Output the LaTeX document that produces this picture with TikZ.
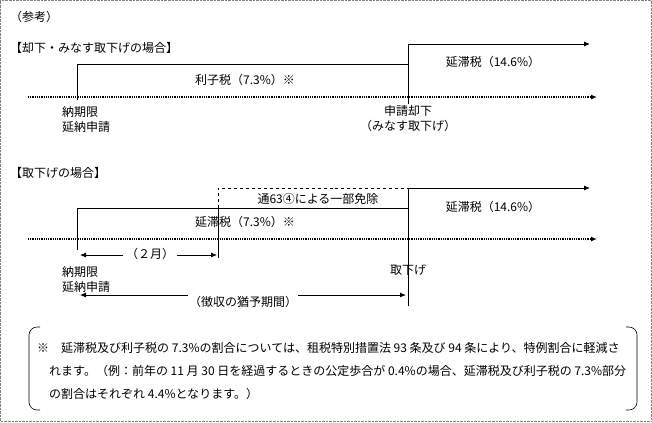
\documentclass[tikz,border=0pt]{standalone}
\usepackage{fontspec}
\setmainfont{Noto Sans CJK JP}
\usetikzlibrary{arrows.meta}
\begin{document}
\begin{tikzpicture}[x=1bp,y=-1bp,
  ln/.style={line width=0.8bp},
  arr/.style={ln,-{Latex[length=6bp,width=5bp]}},
  lbl/.style={font=\fontsize{12bp}{15bp}\selectfont,inner sep=0pt},
  lbll/.style={lbl,anchor=west,align=left}]
\useasboundingbox (0,0) rectangle (652,422);
\draw[densely dotted,gray] (0.5,0.5) rectangle (651.5,421.5);
\node[lbll] (ref) at (10,17) {（参考）};
% case 1
\node[lbll] (h1) at (10,48) {【却下・みなす取下げの場合】};
\coordinate (a0) at (28,97); \coordinate (a1) at (597,97);
\draw[arr,densely dotted,line width=1.2bp] (a0) -- (a1);
\coordinate (p1) at (77,100); \coordinate (p2) at (77,64); \coordinate (p3) at (408,64);
\coordinate (q1) at (408,104); \coordinate (q2) at (408,44); \coordinate (q3) at (590,44);
\draw[ln] (p1) -- (p2) -- (p3);
\draw[arr] (q1) -- (q2) -- (q3);
\node[lbl] (r1) at (245,80) {利子税（7.3\%）※};
\node[lbl] (e1) at (493,62) {延滞税（14.6\%）};
\node[lbll] (n1) at (62,119) {納期限\\延納申請};
\node[lbl,align=center] (s1) at (408,119) {申請却下\\（みなす取下げ）};
% case 2
\node[lbll] (h2) at (10,173) {【取下げの場合】};
\coordinate (b0) at (28,239); \coordinate (b1) at (597,239);
\draw[arr,densely dotted,line width=1.2bp] (b0) -- (b1);
\coordinate (u1) at (77,250); \coordinate (u2) at (77,208); \coordinate (u3) at (408,208);
\draw[ln] (u1) -- (u2) -- (u3);
\coordinate (d1) at (218,208); \coordinate (d2) at (218,188); \coordinate (d3) at (408,188);
\draw[ln,dashed] (d1) -- (d2) -- (d3);
\coordinate (d4) at (218,258); \draw[ln] (d1) -- (d4);
\coordinate (v1) at (408,306); \coordinate (v2) at (408,188); \coordinate (v3) at (590,188);
\draw[arr] (v1) -- (v2) -- (v3);
\node[lbl] (x1) at (318,199) {通63④による一部免除};
\node[lbl] (e2) at (245,222) {延滞税（7.3\%）※};
\node[lbl] (e3) at (493,207) {延滞税（14.6\%）};
\node[lbl] (m2) at (150,254) {（２月）};
\coordinate (m2l) at (80,255); \coordinate (m2r) at (217,255);
\draw[arr] (m2.west) ++(-3,1) -- (m2l);
\draw[arr] (m2.east) ++(3,1) -- (m2r);
\node[lbll] (n2) at (62,279) {納期限\\延納申請};
\node[lbl] (t2) at (408,270) {取下げ};
\coordinate (g1) at (80,295); \coordinate (g2) at (406,295);
\draw[ln,{Latex[length=6bp,width=5bp]}-{Latex[length=6bp,width=5bp]}] (g1) -- (g2);
\node[lbl,fill=white,inner sep=1bp] (g) at (243,302) {（徴収の猶予期間）};
% note
\draw[line width=0.6bp,rounded corners=8bp] (40,327) -- (29,327) -- (29,410) -- (40,410);
\draw[line width=0.6bp,rounded corners=8bp] (626,327) -- (637,327) -- (637,410) -- (626,410);
\node[lbll,font=\fontsize{12bp}{23bp}\selectfont] (note) at (37,371) {※　延滞税及び利子税の 7.3\%の割合については、租税特別措置法 93 条及び 94 条により、特例割合に軽減さ\\　れます。（例：前年の 11 月 30 日を経過するときの公定歩合が 0.4\%の場合、延滞税及び利子税の 7.3\%部分\\　の割合はそれぞれ 4.4\%となります。）};
\end{tikzpicture}
\end{document}
